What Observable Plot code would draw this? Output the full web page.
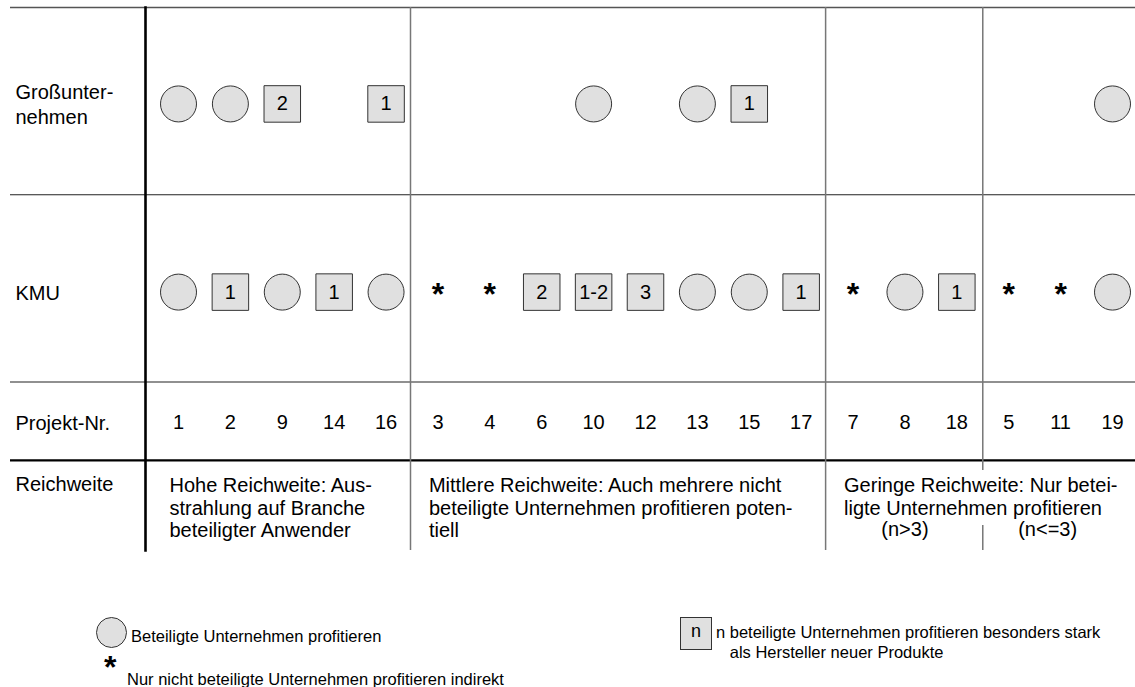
<!DOCTYPE html>
<html><head><meta charset="utf-8">
<script src="https://cdn.jsdelivr.net/npm/d3@7"></script>
<script src="https://cdn.jsdelivr.net/npm/@observablehq/plot@0.6"></script>
<style>
body{margin:0;background:#fff;font-family:Arial,"Liberation Sans",sans-serif;}
#wrap{position:relative;width:1135px;height:687px;overflow:hidden;}
#legend{position:absolute;left:0;top:560px;width:1135px;height:127px;font-size:16.5px;color:#000;}
#legend .sym{position:absolute;box-sizing:border-box;background:#e0e0e0;border:1px solid #333;}
#legend .txt{position:absolute;white-space:pre;line-height:20px;}
</style>
</head><body>
<div id="wrap"><div id="chart"></div><div id="legend"></div></div>
<script>
// ---- data ----
const projects = ["1","2","9","14","16","3","4","6","10","12","13","15","17","7","8","18","5","11","19"];
// "o" = circle, "*" = star, other text = square with number
const grossRow = ["o","o","2","","1","","","","o","","o","1","","","","","","","o"];
const kmuRow   = ["o","1","o","1","o","*","*","2","1-2","3","o","o","1","*","o","1","*","*","o"];
const rowLabels = ["Großunter-\nnehmen","KMU","Projekt-Nr.","Reichweite"];
const sectionFirst = [0, 5, 13, 16];          // first project index of each reach section
const sectionBreaks = [4.5, 12.5, 15.5];
const reachTexts = [
  "Hohe Reichweite: Aus-\nstrahlung auf Branche\nbeteiligter Anwender",
  "Mittlere Reichweite: Auch mehrere nicht\nbeteiligte Unternehmen profitieren poten-\ntiell",
  "Geringe Reichweite: Nur betei-\nligte Unternehmen profitieren"
];
const reachSub = ["(n>3)","(n<=3)"];
const legendLabels = [
  "Beteiligte Unternehmen profitieren",
  "n beteiligte Unternehmen profitieren besonders stark\n   als Hersteller neuer Produkte",
  "Nur nicht beteiligte Unternehmen profitieren indirekt"
];

// ---- layout (row units) ----
const L = {edges:[1,2], top:0, thick:2.419, bottom:2.9, gross:0.515, kmu:1.52, proj:2.215,
           reachTop:2.505, gapTop:2.473, gapBottom:2.767, lineStep:0.1196};

const cells = [];
projects.forEach((p,i)=>{
  [[grossRow[i],L.gross],[kmuRow[i],L.kmu]].forEach(([v,y])=>{
    if(v) cells.push({i,y,v,kind: v==="o"?"circle":(v==="*"?"star":"square")});
  });
});
const FONT = "Arial, 'Liberation Sans', sans-serif";
const reachData = reachTexts.map((t,k)=>({t, x: sectionFirst[k]}));
const subData = [
  {t: reachSub[0], x: (sectionBreaks[1]+sectionBreaks[2])/2},
  {t: reachSub[1], x: (sectionBreaks[2]+projects.length-1)/2}
];

const chart = Plot.plot({
  width:1135, height:560,
  marginLeft:145, marginRight:0, marginTop:7, marginBottom:10,
  style:{fontFamily:FONT, background:"#fff", color:"#000"},
  x:{type:"linear", domain:[0, projects.length-1], insetLeft:33, insetRight:23, axis:null},
  y:{domain:[0, L.bottom], reverse:true, axis:null},
  marks:[
    Plot.ruleY([L.top],{insetLeft:-135, stroke:"#555", strokeWidth:1.3}),
    Plot.ruleY(L.edges,{insetLeft:-135, stroke:"#222", strokeWidth:1.2}),
    Plot.ruleY([L.thick],{insetLeft:-135, stroke:"#000", strokeWidth:2.2}),
    Plot.ruleX(sectionBreaks.slice(0,2),{y1:L.top, y2:L.bottom, dx:-1.5, stroke:"#777", strokeWidth:1.5}),
    Plot.ruleX([sectionBreaks[2], sectionBreaks[2]],{y1:[L.top, L.gapBottom], y2:[L.gapTop, L.bottom], stroke:"#777", strokeWidth:1.5}),
    Plot.frame({anchor:"left", stroke:"#000", strokeWidth:2.6}),
    // row labels
    Plot.text(rowLabels.slice(0,3),{y:[L.gross,L.kmu,L.proj], frameAnchor:"left", dx:-130, textAnchor:"start", fontSize:20, lineHeight:1.25, fill:"#000"}),
    Plot.text([rowLabels[3]],{y:[L.reachTop], frameAnchor:"left", dx:-130, textAnchor:"start", lineAnchor:"top", fontSize:20, fill:"#000"}),
    // cells
    Plot.dot(cells.filter(d=>d.kind==="circle"),{x:"i", y:"y", r:18, fill:"#e0e0e0", stroke:"#333", strokeWidth:1}),
    Plot.dot(cells.filter(d=>d.kind==="square"),{x:"i", y:"y", symbol:"square", r:20.6, fill:"#e0e0e0", stroke:"#333", strokeWidth:1}),
    Plot.text(cells.filter(d=>d.kind==="square"),{x:"i", y:"y", text:"v", fontSize:20, fill:"#000"}),
    Plot.text(cells.filter(d=>d.kind==="star"),{x:"i", y:"y", text:()=>"*", fontSize:32, fontWeight:"bold", dy:3, fill:"#000"}),
    // project numbers
    Plot.text(projects,{x:(d,i)=>i, y:()=>L.proj, text:d=>d, fontSize:20, fill:"#000"}),
    // reach texts
    Plot.text(reachData,{x:"x", y:()=>L.reachTop, text:"t", dx:-9, textAnchor:"start", lineAnchor:"top", lineHeight:1.12, fontSize:20, fill:"#000"}),
    Plot.text(subData,{x:"x", y:()=>L.reachTop+2*L.lineStep, text:"t", lineAnchor:"top", fontSize:20, fill:"#000"})
  ]
});
document.getElementById("chart").appendChild(chart);

// legend (below the svg)
const lg = document.getElementById("legend");
function add(cls, css, text){const e=document.createElement("div"); e.className=cls; Object.assign(e.style, css); if(text!=null) e.textContent=text; lg.appendChild(e); return e;}
add("sym",{left:"96px", top:"57px", width:"31px", height:"31px", borderRadius:"50%"});
add("txt",{left:"131px", top:"66px"}, legendLabels[0]);
add("sym",{left:"680px", top:"57px", width:"32px", height:"33px", textAlign:"center", lineHeight:"26px", fontSize:"18px"}, "n");
add("txt",{left:"716px", top:"62px"}, legendLabels[1]);
add("txt",{left:"104px", top:"92px", fontSize:"32px", lineHeight:"30px", fontWeight:"bold"}, "*");
add("txt",{left:"127px", top:"109px"}, legendLabels[2]);
</script>
</body></html>
